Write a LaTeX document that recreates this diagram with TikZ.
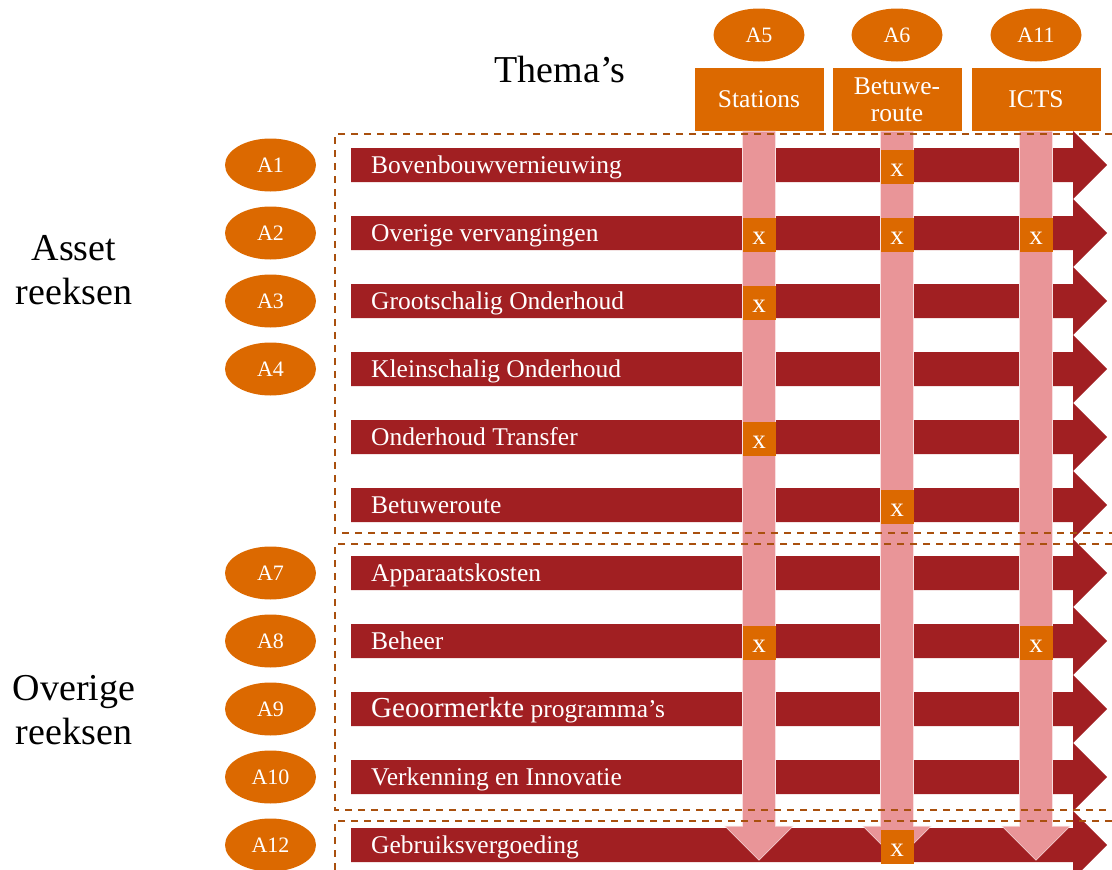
\documentclass[tikz,border=0pt]{standalone}
\usepackage{fontspec}
\setmainfont{Liberation Serif}
\usetikzlibrary{shapes.geometric, calc}
\definecolor{barrood}{HTML}{A11F22}
\definecolor{oranje}{HTML}{DC6900}
\definecolor{roze}{HTML}{E99598}
\definecolor{streep}{HTML}{A9500E}

\begin{document}
\begin{tikzpicture}[x=1pt,y=-1pt,
  ovaal/.style={ellipse, fill=oranje, text=white, minimum width=91pt,
    minimum height=53pt, inner sep=0pt, font=\fontsize{22}{24}\selectfont},
  kop/.style={rectangle, fill=oranje, text=white, minimum width=129pt,
    minimum height=63pt, inner sep=0pt, align=center, font=\fontsize{25.5}{27}\selectfont},
  kruis/.style={rectangle, fill=oranje, text=white, minimum width=33pt,
    minimum height=34pt, inner sep=0pt, text height=20pt, text depth=0pt,
    font=\fontsize{27}{27}\selectfont},
  rijtekst/.style={anchor=base west, text=white, inner sep=0pt, font=\fontsize{25.5}{27}\selectfont},
  kader/.style={draw=streep, line width=2pt, dash pattern=on 7pt off 6pt},
  groot/.style={align=center, font=\fontsize{38}{44}\selectfont}]
  \useasboundingbox (0,0) rectangle (1112,870);
  \def\h{17}  % halve balkhoogte

  % Balken met rij-labels
  \foreach \i/\lab/\txt in {1/A1/Bovenbouwvernieuwing,
      2/A2/Overige vervangingen,
      3/A3/Grootschalig Onderhoud,
      4/A4/Kleinschalig Onderhoud,
      5//Onderhoud Transfer,
      6//Betuweroute,
      7/A7/Apparaatskosten,
      8/A8/Beheer,
      9/A9/{{\fontsize{29}{30}\selectfont Geoormerkte} programma’s},
      10/A10/Verkenning en Innovatie,
      11/A12/Gebruiksvergoeding} {
    \pgfmathsetmacro{\y}{165+68*(\i-1)}
    \coordinate (rij\i) at (351,\y);
    \fill[barrood] (351,\y-\h) -- (1073,\y-\h) -- (1073,\y-34) -- (1107,\y)
      -- (1073,\y+34) -- (1073,\y+\h) -- (351,\y+\h) -- cycle;
    \node[rijtekst] (r\i) at (371,\y+8.5) {\txt};
    \ifx\lab\empty\else
      \node[ovaal] (a\i) at (270.5,\y) {\lab};
    \fi
  }

  % Thema's
  \node[groot] (themas) at (560,70) {Thema’s};
  \node[ovaal] (a5) at (759,35) {A5};
  \node[ovaal] (a6) at (897,35) {A6};
  \node[ovaal] (a11) at (1036,35) {A11};
  \node[kop] (stations) at (759,99.5) {Stations};
  \node[kop] (betuwe) at (897,99.5) {Betuwe-\\route};
  \node[kop] (icts) at (1036,99.5) {ICTS};

  % Roze pijlen naar beneden
  \foreach \k in {stations,betuwe,icts} {
    \fill[roze, draw=white!70!roze, line width=0.6pt]
      ($(\k.south)+(-16.5,0)$) -- ($(\k.south)+(16.5,0)$) -- ++(0,695)
      -- ++(17.5,0) -- ++(-34,34) -- ++(-34,-34) -- ++(17.5,0) -- cycle;
  }

  % Kaders
  \draw[kader] (1112,134) -| (335,533) -- (1112,533);
  \draw[kader] (1112,544) -| (335,810) -- (1112,810);
  \draw[kader] (1112,821) -| (335,875);

  % Kruisjes
  \foreach \k/\i [count=\n] in {betuwe/1, stations/2, betuwe/2, icts/2, stations/3,
      stations/5, betuwe/6, stations/8, icts/8, betuwe/11} {
    \node[kruis] (x\n) at ($(\k.south |- rij\i)+(0,1.5)$) {x};
  }

  % Groepen
  \node[groot] (asset) at (74,270) {Asset\\reeksen};
  \node[groot] (overig) at (74,710) {Overige\\reeksen};
\end{tikzpicture}
\end{document}
